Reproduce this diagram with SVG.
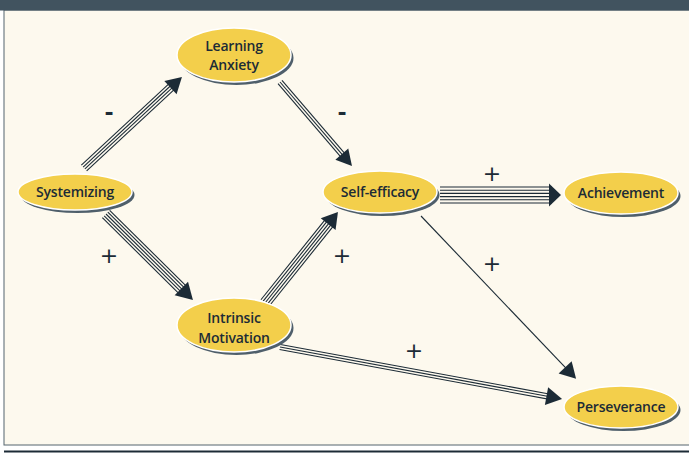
<svg xmlns="http://www.w3.org/2000/svg" width="689" height="453" viewBox="0 0 689 453">
<style>
.ln{stroke:#1c2b36;stroke-width:1.1;fill:none}
.hd{fill:#1c2b36}
.sh{fill:#4f5f6b}
.el{fill:#f3cf4b;stroke:#ffffff;stroke-width:1.5}
.tx{font-family:"Open Sans","Noto Sans",sans-serif;font-weight:600;font-size:14px;letter-spacing:-0.2px;fill:#1c2b36;text-anchor:middle}
.lb{font-family:"DejaVu Sans",sans-serif;font-size:22px;fill:#1c2b36;text-anchor:middle}
</style>
<rect x="0" y="0" width="689" height="453" fill="#ffffff"/>
<rect x="4" y="10" width="690" height="435" fill="#fdf9ee" stroke="#55646e" stroke-width="1"/>
<rect x="0" y="0" width="689" height="10.5" fill="#41535f"/>
<rect x="4" y="450.5" width="685" height="2" fill="#1c2b36"/>

<g id="connectors">
  <g transform="translate(84,168) rotate(-42.9)">
    <line class="ln" x1="0" y1="-3.9" x2="122" y2="-3.9"/>
    <line class="ln" x1="0" y1="-1.3" x2="122" y2="-1.3"/>
    <line class="ln" x1="0" y1="1.3" x2="122" y2="1.3"/>
    <line class="ln" x1="0" y1="3.9" x2="122" y2="3.9"/>
    <polygon class="hd" points="133.7,0 118,-9 118,9"/>
  </g>
  <g transform="translate(280,82) rotate(49.4)">
    <line class="ln" x1="0" y1="-2.6" x2="99" y2="-2.6"/>
    <line class="ln" x1="0" y1="0" x2="99" y2="0"/>
    <line class="ln" x1="0" y1="2.6" x2="99" y2="2.6"/>
    <polygon class="hd" points="110.6,0 95,-8.5 95,8.5"/>
  </g>
  <g transform="translate(106,214) rotate(44.7)">
    <line class="ln" x1="0" y1="-5.2" x2="111" y2="-5.2"/>
    <line class="ln" x1="0" y1="-2.6" x2="111" y2="-2.6"/>
    <line class="ln" x1="0" y1="0" x2="111" y2="0"/>
    <line class="ln" x1="0" y1="2.6" x2="111" y2="2.6"/>
    <line class="ln" x1="0" y1="5.2" x2="111" y2="5.2"/>
    <polygon class="hd" points="122.3,0 106,-9.5 106,9.5"/>
  </g>
  <g transform="translate(265,303) rotate(-51.3)">
    <line class="ln" x1="0" y1="-5.2" x2="105" y2="-5.2"/>
    <line class="ln" x1="0" y1="-2.6" x2="105" y2="-2.6"/>
    <line class="ln" x1="0" y1="0" x2="105" y2="0"/>
    <line class="ln" x1="0" y1="2.6" x2="105" y2="2.6"/>
    <line class="ln" x1="0" y1="5.2" x2="105" y2="5.2"/>
    <polygon class="hd" points="116.7,0 101,-9.5 101,9.5"/>
  </g>
  <g transform="translate(440,195)">
    <line class="ln" x1="0" y1="-8" x2="112" y2="-8"/>
    <line class="ln" x1="0" y1="-4.8" x2="112" y2="-4.8"/>
    <line class="ln" x1="0" y1="-1.6" x2="112" y2="-1.6"/>
    <line class="ln" x1="0" y1="1.6" x2="112" y2="1.6"/>
    <line class="ln" x1="0" y1="4.8" x2="112" y2="4.8"/>
    <line class="ln" x1="0" y1="8" x2="112" y2="8"/>
    <polygon class="hd" points="121,0 109,-11.5 109,11.5"/>
  </g>
  <g transform="translate(421,216) rotate(46.4)">
    <line class="ln" x1="0" y1="0" x2="214" y2="0"/>
    <polygon class="hd" points="224.9,0 209,-9 209,9"/>
  </g>
  <g transform="translate(280,347) rotate(10.45)">
    <line class="ln" x1="0" y1="-2.6" x2="276" y2="-2.6"/>
    <line class="ln" x1="0" y1="0" x2="276" y2="0"/>
    <line class="ln" x1="0" y1="2.6" x2="276" y2="2.6"/>
    <polygon class="hd" points="286.8,0 271,-9 271,9"/>
  </g>
  <text class="lb" x="109" y="120" font-weight="bold">-</text>
  <text class="lb" x="342" y="120" font-weight="bold">-</text>
  <text class="lb" x="109" y="263">+</text>
  <text class="lb" x="342" y="263">+</text>
  <text class="lb" x="492" y="181">+</text>
  <text class="lb" x="492" y="271">+</text>
  <text class="lb" x="414" y="358">+</text>
</g>

<g id="systemizing">
  <ellipse class="sh" cx="77.5" cy="195" rx="57" ry="18"/>
  <ellipse class="el" cx="75" cy="192" rx="57" ry="18"/>
  <text class="tx" x="75" y="197">Systemizing</text>
</g>
<g id="learning-anxiety">
  <ellipse class="sh" cx="236.5" cy="58" rx="57" ry="27"/>
  <ellipse class="el" cx="234" cy="55" rx="57" ry="27"/>
  <text class="tx" x="234" y="51">Learning</text>
  <text class="tx" x="234" y="70">Anxiety</text>
</g>
<g id="intrinsic-motivation">
  <ellipse class="sh" cx="236.5" cy="328" rx="57" ry="27"/>
  <ellipse class="el" cx="234" cy="325" rx="57" ry="27"/>
  <text class="tx" x="234" y="323">Intrinsic</text>
  <text class="tx" x="234" y="343">Motivation</text>
</g>
<g id="self-efficacy">
  <ellipse class="sh" cx="382.5" cy="195" rx="57" ry="21"/>
  <ellipse class="el" cx="380" cy="192" rx="57" ry="21"/>
  <text class="tx" x="380" y="197">Self-efficacy</text>
</g>
<g id="achievement">
  <ellipse class="sh" cx="623.5" cy="196" rx="57" ry="21"/>
  <ellipse class="el" cx="621" cy="193" rx="57" ry="21"/>
  <text class="tx" x="621" y="198">Achievement</text>
</g>
<g id="perseverance">
  <ellipse class="sh" cx="623.5" cy="410" rx="57" ry="21"/>
  <ellipse class="el" cx="621" cy="407" rx="57" ry="21"/>
  <text class="tx" x="621" y="412">Perseverance</text>
</g>
</svg>
